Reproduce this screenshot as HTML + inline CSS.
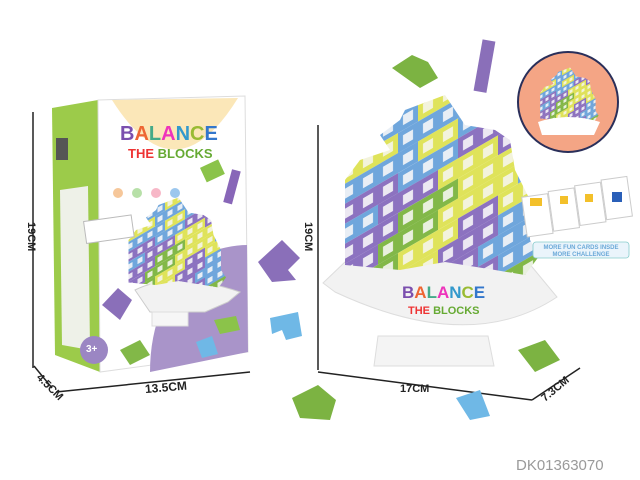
<!DOCTYPE html>
<html><head><style>body{margin:0;background:#fff}svg{display:block}</style></head><body>
<svg width="640" height="480" viewBox="0 0 640 480" xmlns="http://www.w3.org/2000/svg" font-family="Liberation Sans, sans-serif">
<defs>
<pattern id="pb" width="20" height="20" patternUnits="userSpaceOnUse"><rect width="20" height="20" fill="#6fa6dc"/><rect x="5" y="5" width="10" height="10" fill="#e8eef5"/></pattern>
<pattern id="pp" width="20" height="20" patternUnits="userSpaceOnUse"><rect width="20" height="20" fill="#8c72c0"/><rect x="5" y="5" width="10" height="10" fill="#ece8f2"/></pattern>
<pattern id="py" width="20" height="20" patternUnits="userSpaceOnUse"><rect width="20" height="20" fill="#dfe35a"/><rect x="5" y="5" width="10" height="10" fill="#f3f3dc"/></pattern>
<pattern id="pg" width="20" height="20" patternUnits="userSpaceOnUse"><rect width="20" height="20" fill="#82b848"/><rect x="5" y="5" width="10" height="10" fill="#e9f0df"/></pattern>
<clipPath id="tc"><polygon points="-33,-80 7,-95 27,-65 57,-60 72,-50 77,-20 92,10 92,50 102,65 87,85 57,80 7,72 -38,80 -93,75 -93,40 -93,-10 -78,-30 -48,-40 -58,-55 -38,-70"/></clipPath>
<g id="T"><g clip-path="url(#tc)"><g transform="skewY(-30)">
<rect x="-100" y="-100" width="80" height="20" fill="url(#pb)"/><rect x="-20" y="-100" width="60" height="20" fill="url(#py)"/><rect x="40" y="-100" width="70" height="20" fill="url(#pp)"/>
<rect x="-100" y="-80" width="60" height="20" fill="url(#py)"/><rect x="-40" y="-80" width="80" height="20" fill="url(#pb)"/><rect x="40" y="-80" width="70" height="20" fill="url(#pp)"/>
<rect x="-100" y="-60" width="80" height="20" fill="url(#pb)"/><rect x="-20" y="-60" width="40" height="20" fill="url(#py)"/><rect x="20" y="-60" width="60" height="20" fill="url(#pb)"/><rect x="80" y="-60" width="30" height="20" fill="url(#pp)"/>
<rect x="-100" y="-40" width="60" height="20" fill="url(#pp)"/><rect x="-40" y="-40" width="60" height="20" fill="url(#pb)"/><rect x="20" y="-40" width="90" height="20" fill="url(#pp)"/>
<rect x="-100" y="-20" width="40" height="20" fill="url(#pb)"/><rect x="-60" y="-20" width="60" height="20" fill="url(#pp)"/><rect x="0" y="-20" width="60" height="20" fill="url(#py)"/><rect x="60" y="-20" width="50" height="20" fill="url(#pp)"/>
<rect x="-100" y="0" width="60" height="20" fill="url(#pp)"/><rect x="-40" y="0" width="60" height="20" fill="url(#pg)"/><rect x="20" y="0" width="90" height="20" fill="url(#py)"/>
<rect x="-100" y="20" width="40" height="20" fill="url(#pp)"/><rect x="-60" y="20" width="60" height="20" fill="url(#pg)"/><rect x="0" y="20" width="80" height="20" fill="url(#py)"/><rect x="80" y="20" width="30" height="20" fill="url(#pb)"/>
<rect x="-100" y="40" width="60" height="20" fill="url(#pg)"/><rect x="-40" y="40" width="60" height="20" fill="url(#py)"/><rect x="20" y="40" width="40" height="20" fill="url(#pp)"/><rect x="60" y="40" width="50" height="20" fill="url(#py)"/>
<rect x="-100" y="60" width="40" height="20" fill="url(#pg)"/><rect x="-60" y="60" width="60" height="20" fill="url(#py)"/><rect x="0" y="60" width="60" height="20" fill="url(#pp)"/><rect x="60" y="60" width="50" height="20" fill="url(#pb)"/>
<rect x="-100" y="80" width="80" height="20" fill="url(#py)"/><rect x="-20" y="80" width="60" height="20" fill="url(#pp)"/><rect x="40" y="80" width="70" height="20" fill="url(#pb)"/>
<rect x="-100" y="100" width="100" height="20" fill="url(#pg)"/><rect x="0" y="100" width="60" height="20" fill="url(#pp)"/><rect x="60" y="100" width="50" height="20" fill="url(#pb)"/>
<rect x="-100" y="120" width="210" height="20" fill="url(#pg)"/>
<rect x="-100" y="140" width="210" height="20" fill="url(#pb)"/>
</g></g></g>
</defs>
<rect width="640" height="480" fill="#fff"/>
<line x1="33" y1="112" x2="33" y2="368" stroke="#222" stroke-width="1.5"/>
<text transform="translate(28,222) rotate(90)" font-size="11" font-weight="bold" fill="#222">19CM</text>
<line x1="34" y1="366" x2="52" y2="388" stroke="#222" stroke-width="1.5"/>
<text transform="translate(36,378) rotate(45)" font-size="11" font-weight="bold" fill="#222">4.5CM</text>
<line x1="56" y1="392" x2="250" y2="372" stroke="#222" stroke-width="1.5"/>
<text x="145" y="391" font-size="12" font-weight="bold" fill="#222" transform="rotate(-5 170 388)">13.5CM</text>
<polygon points="52,108 98,100 100,372 55,355" fill="#9ccb4a"/>
<polygon points="60,190 88,186 90,350 62,345" fill="#eef1e8"/>
<rect x="56" y="138" width="12" height="22" fill="#555"/>
<polygon points="98,100 245,96 248,352 100,372" fill="#fff" stroke="#ddd"/>
<path d="M112,100 Q175,200 238,98 Z" fill="#fbe7b8"/>
<path d="M150,372 Q150,300 200,255 Q228,245 247,245 L248,352 Z" fill="#a994c9"/>
<text x="120" y="140" font-size="20" font-weight="bold" fill="#7b4fae">B<tspan fill="#e63">A</tspan><tspan fill="#4a8">L</tspan><tspan fill="#e3b">A</tspan><tspan fill="#39c">N</tspan><tspan fill="#9b3">C</tspan><tspan fill="#37c">E</tspan></text>
<text x="128" y="158" font-size="13" font-weight="bold" fill="#e33">THE <tspan fill="#6a3">BLOCKS</tspan></text>
<circle cx="118" cy="193" r="5" fill="#f6c79a"/><circle cx="137" cy="193" r="5" fill="#b7e0a8"/><circle cx="156" cy="193" r="5" fill="#f7b7c7"/><circle cx="175" cy="193" r="5" fill="#9cc7ee"/>
<path d="M135,290 Q175,270 240,292 L228,302 L205,312 L150,312 Z" fill="#f2f2f2" stroke="#ccc"/>
<rect x="152" y="312" width="36" height="14" fill="#f6f6f6" stroke="#ddd"/>
<use href="#T" transform="translate(175,245) scale(0.5)"/>
<circle cx="94" cy="350" r="14" fill="#9b86c3"/><text x="86" y="352" font-size="10" font-weight="bold" fill="#fff">3+</text>
<g transform="rotate(-8 110 230)"><rect x="85" y="218" width="48" height="22" fill="#fff" stroke="#bbb"/></g>
<rect x="228" y="170" width="9" height="34" fill="#8866b8" transform="rotate(15 233 185)"/>
<rect x="202" y="163" width="20" height="16" fill="#8bc34a" transform="rotate(-25 212 170)"/>
<polygon points="258,262 282,240 300,258 288,270 296,280 272,282" fill="#8a6fb9"/>
<polygon points="270,318 298,312 302,336 286,340 282,330 272,334" fill="#6fb8e6"/>
<polygon points="102,305 118,288 132,300 120,320" fill="#8a6fb9"/>
<polygon points="196,342 212,336 218,354 202,358" fill="#6fb8e6"/>
<polygon points="214,320 236,316 240,330 220,334" fill="#8bc34a"/>
<polygon points="120,350 140,340 150,355 130,365" fill="#82b848"/>
<path d="M378,336 L488,336 L494,366 L374,366 Z" fill="#f4f4f4" stroke="#ddd"/>
<path d="M323,283 L345,262 Q440,245 528,262 L557,297 Q470,355 335,292 Z" fill="#f2f2f2" stroke="#ddd"/>
<use href="#T" transform="translate(438,190)"/>
<text x="402" y="298" font-size="17" font-weight="bold" fill="#7b4fae">B<tspan fill="#e63">A</tspan><tspan fill="#4a8">L</tspan><tspan fill="#e3b">A</tspan><tspan fill="#39c">N</tspan><tspan fill="#9b3">C</tspan><tspan fill="#37c">E</tspan></text>
<text x="408" y="314" font-size="11" font-weight="bold" fill="#e33">THE <tspan fill="#6a3">BLOCKS</tspan></text>
<line x1="318" y1="125" x2="318" y2="370" stroke="#222" stroke-width="1.5"/>
<text transform="translate(305,222) rotate(90)" font-size="11" font-weight="bold" fill="#222">19CM</text>
<line x1="318" y1="372" x2="532" y2="400" stroke="#222" stroke-width="1.5"/>
<text x="400" y="392" font-size="11" font-weight="bold" fill="#222">17CM</text>
<line x1="532" y1="400" x2="580" y2="368" stroke="#222" stroke-width="1.5"/>
<text transform="translate(545,402) rotate(-40)" font-size="11" font-weight="bold" fill="#222">7.3CM</text>
<polygon points="392,68 412,55 428,62 438,78 420,88" fill="#7cb342"/>
<rect x="478" y="40" width="13" height="52" fill="#8a6fb9" transform="rotate(10 484 66)"/>
<polygon points="292,398 318,385 336,400 330,420 300,418" fill="#7cb342"/>
<polygon points="456,398 480,390 490,416 470,420" fill="#6fb8e6"/>
<polygon points="518,350 545,340 560,360 535,372" fill="#7cb342"/>
<circle cx="568" cy="102" r="50" fill="#f4a585" stroke="#2a2f5a" stroke-width="2"/>
<use href="#T" transform="translate(568,96) scale(0.3)"/>
<path d="M538,122 Q568,112 600,122 L594,135 L542,135 Z" fill="#fff"/>
<g transform="rotate(-8 575 210)"><rect x="524" y="190" width="26" height="40" fill="#fff" stroke="#ccc"/><rect x="551" y="188" width="26" height="40" fill="#fff" stroke="#ccc"/><rect x="578" y="186" width="26" height="40" fill="#fff" stroke="#ccc"/><rect x="605" y="184" width="26" height="40" fill="#fff" stroke="#ccc"/></g>
<rect x="530" y="198" width="12" height="8" fill="#f3c02a"/><rect x="560" y="196" width="8" height="8" fill="#f3c02a"/><rect x="585" y="194" width="8" height="8" fill="#f3c02a"/><rect x="612" y="192" width="10" height="10" fill="#2a5fb8"/>
<rect x="533" y="242" width="96" height="16" rx="3" fill="#eaf4fb" stroke="#8cc" stroke-width="0.8"/>
<text x="581" y="249" font-size="6" font-weight="bold" fill="#6aa8d8" text-anchor="middle">MORE FUN CARDS INSDE</text>
<text x="581" y="256" font-size="6" font-weight="bold" fill="#6aa8d8" text-anchor="middle">MORE CHALLENGE</text>
<text x="516" y="470" font-size="15" fill="#9a9a9a">DK01363070</text>
</svg>
</body></html>
